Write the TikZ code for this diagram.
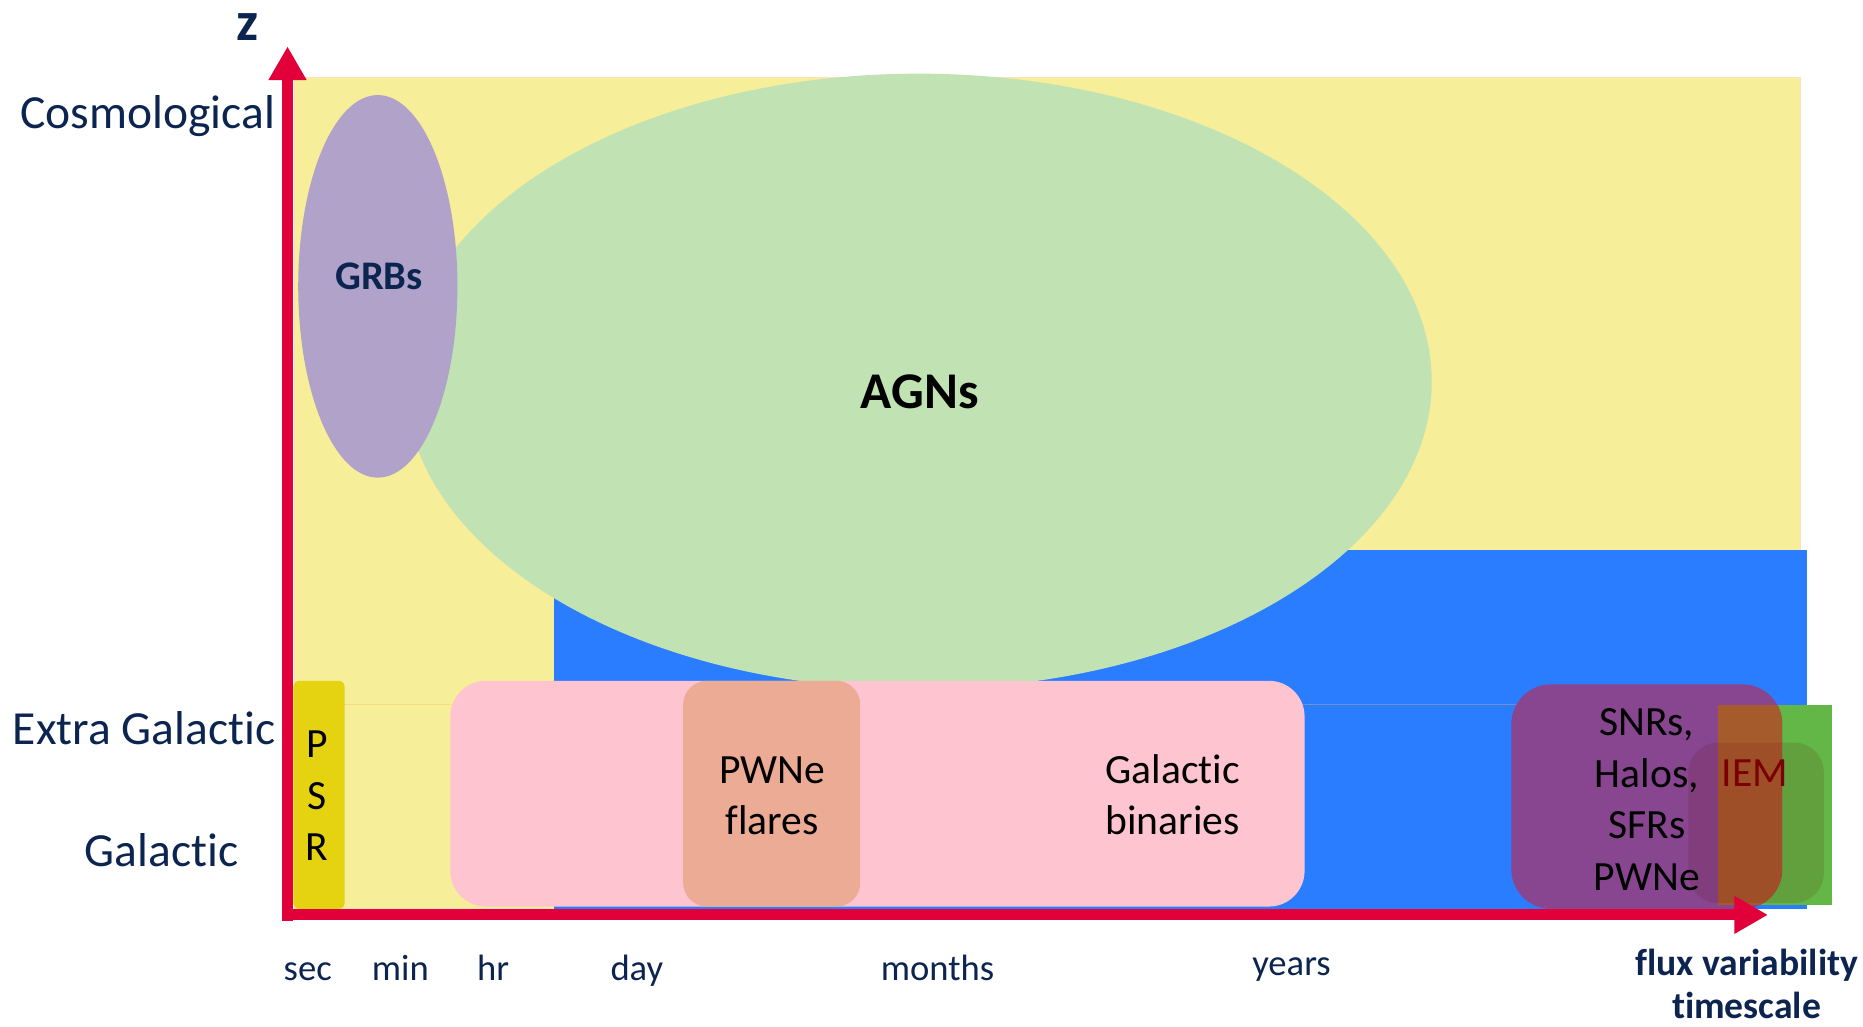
\documentclass[tikz,border=0pt]{standalone}
\usepackage{fontspec}
\setmainfont{Carlito}[Ligatures=NoCommon]
\usetikzlibrary{arrows.meta}
\definecolor{navy}{HTML}{0C2550}
\definecolor{axisred}{HTML}{E1003A}
\definecolor{zone}{HTML}{F6EE98}
\definecolor{xgal}{HTML}{2B7DFF}
\definecolor{agn}{HTML}{C1E2B3}
\definecolor{grb}{HTML}{B1A2C9}
\definecolor{psr}{HTML}{E5D210}
\definecolor{bin}{HTML}{FEC4D0}
\definecolor{pwn}{HTML}{ECAB94}
\definecolor{snr}{HTML}{87468F}
\definecolor{iem}{HTML}{62B746}
\definecolor{iemsnr}{HTML}{A65B2D}
\definecolor{iemtext}{HTML}{7B0000}
\begin{document}
\begin{tikzpicture}[x=0.6pt,y=-0.6pt,
    lbl/.style={text=navy, font=\fontsize{24}{28}\selectfont, inner sep=0pt, anchor=base east},
    tick/.style={text=navy, font=\fontsize{18.5}{22}\selectfont, inner sep=0pt, anchor=base},
    src/.style={font=\fontsize{21}{26}\selectfont, align=center, inner sep=0pt},
    axis/.style={draw=axisred, line width=5.6pt, -{Triangle[length=17pt,width=18pt]}}]
	\useasboundingbox (0,0) rectangle (1568,864);

	% background zones
	\fill[zone, draw=orange!25, line width=0.5pt] (248,65) rectangle (1515,765);
	\fill[xgal] (466,463) rectangle (1521,765);
	\draw[orange!60, opacity=0.35, line width=0.6pt] (248,593) -- (1446,593);

	% AGNs and GRBs
	\fill[agn] (773,321) ellipse [x radius=432, y radius=259];
	\fill[grb] (318,241) ellipse [x radius=67, y radius=161];

	% galactic sources
	\fill[psr, rounded corners=3pt] (247,573) rectangle (290,765);
	\fill[bin, rounded corners=18pt] (379,573) rectangle (1098,763);
	\fill[pwn, rounded corners=12pt] (575,573) rectangle (724,763);

	% SNRs and IEM
	\fill[iem] (1446,593) rectangle (1542,762);
	\fill[snr, rounded corners=20pt] (1272,576) rectangle (1500,765);
	\begin{scope}
		\clip[rounded corners=20pt] (1272,576) rectangle (1500,765);
		\fill[iemsnr] (1446,593) rectangle (1542,762);
	\end{scope}
	\fill[red!40!black, opacity=0.12, rounded corners=15pt] (1421,625) rectangle (1535,760);

	% axes
	\coordinate (zfoot) at (242,775);
	\coordinate (ztop) at (242,39);
	\coordinate (tfoot) at (237,770);
	\coordinate (tend) at (1488,770);
	\draw[axis] (zfoot) -- (ztop);
	\draw[axis] (tfoot) -- (tend);

	% axis labels
	\node[text=navy, font=\bfseries\fontsize{28}{30}\selectfont, inner sep=0pt, anchor=base] (zname) at (208,34) {z};
	\node[lbl] (cosmo) at (232,108) {Cosmological};
	\node[lbl] (extragal) at (232,627) {Extra Galactic};
	\node[lbl, anchor=base] (gal) at (136,729) {Galactic};
	\node[tick] (sec) at (259,825) {sec};
	\node[tick] (min) at (337,825) {min};
	\node[tick] (hr) at (415,825) {hr};
	\node[tick] (day) at (536,825) {day};
	\node[tick] (months) at (789,825) {months};
	\node[tick] (years) at (1087,821) {years};
	\node[text=navy, font=\bfseries\fontsize{19}{22}\selectfont, align=center, inner sep=0pt] (tscale) at (1470,828) {flux variability\\timescale};

	% source labels
	\node[text=navy, font=\bfseries\fontsize{20.5}{24}\selectfont, inner sep=0pt, anchor=base] (grbs) at (319,244) {GRBs};
	\node[font=\bfseries\fontsize{26}{30}\selectfont, inner sep=0pt, anchor=base] (agns) at (774,344) {AGNs};
	\node[src] (psrs) at (267,670) {P\\S\\R};
	\node[src] (pwne) at (650,670) {PWNe\\flares};
	\node[src] (binaries) at (987,669) {Galactic\\binaries};
	\node[src] (snrs) at (1386,673) {SNRs,\\Halos,\\SFRs\\PWNe};
	\node[src, text=iemtext] (iemname) at (1477,651) {IEM};
\end{tikzpicture}
\end{document}
